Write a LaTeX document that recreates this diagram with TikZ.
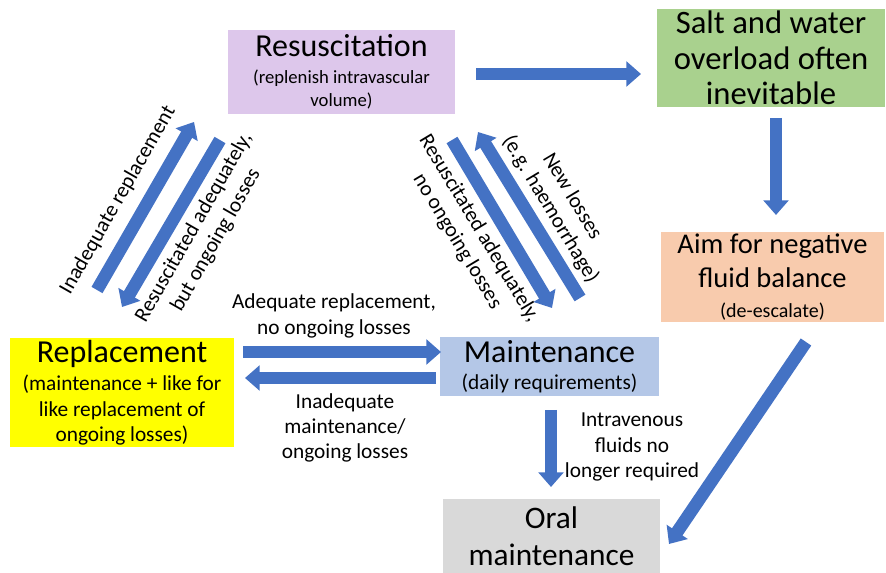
\documentclass[tikz,border=0pt]{standalone}
\usepackage{fontspec}
\setmainfont{Carlito}
\usetikzlibrary{arrows.meta}
\definecolor{arrowblue}{HTML}{4472C4}
\definecolor{purplebox}{RGB}{221,199,235}
\definecolor{greenbox}{HTML}{A9D18E}
\definecolor{orangebox}{HTML}{F8CBAD}
\definecolor{yellowbox}{HTML}{FFFF00}
\definecolor{bluebox}{HTML}{B4C7E7}
\definecolor{graybox}{HTML}{D9D9D9}
\newcommand{\titlefont}{\fontsize{24}{28}\selectfont}
\newcommand{\subfont}{\fontsize{14}{17.4}\selectfont}
\newcommand{\midfont}{\fontsize{16}{19}\selectfont}
\begin{document}
\begin{tikzpicture}[x=0.75pt,y=-0.75pt,
  box/.style={inner sep=0pt, align=center, text=black},
  barrow/.style={draw=arrowblue, line width=9.5pt, -{Triangle[width=18.5pt,length=11pt]}},
  lbl/.style={font=\midfont, align=center, inner sep=0pt}]
\useasboundingbox (0,0) rectangle (886,573);
% boxes
\node[box, fill=purplebox, minimum width=170.25pt, minimum height=63pt, font=\subfont] (res) at (341.5,72)
  {\titlefont Resuscitation\\[3pt](replenish intravascular\\volume)};
\node[box, fill=greenbox, minimum width=171pt, minimum height=73.5pt, font=\fontsize{24.5}{26.5}\selectfont] (salt) at (771,58)
  {Salt and water\\overload often\\inevitable};
\node[box, fill=orangebox, minimum width=167.25pt, minimum height=67.5pt, font=\fontsize{21.4}{25.5}\selectfont] (aim) at (772.5,277)
  {Aim for negative\\fluid balance\\[-3pt]\fontsize{15}{17}\selectfont (de-escalate)};
\node[box, fill=yellowbox, minimum width=168pt, minimum height=81.75pt, font=\midfont] (rep) at (122,393)
  {\titlefont Replacement\\[2pt](maintenance + like for\\like replacement of\\ongoing losses)};
\node[box, fill=bluebox, minimum width=164.25pt, minimum height=44.25pt, font=\midfont] (main) at (549.5,367)
  {\titlefont Maintenance\\[1pt](daily requirements)};
\node[box, fill=graybox, minimum width=162.75pt, minimum height=55.5pt, font=\fontsize{23.5}{27.5}\selectfont] (oral) at (551.5,536)
  {Oral\\maintenance};
% arrow end points
\coordinate (a1s) at (476,74);  \coordinate (a1e) at (641,74);
\coordinate (a2s) at (776,118); \coordinate (a2e) at (776,215);
\coordinate (a3s) at (806,342); \coordinate (a3e) at (669,544);
\coordinate (a4s) at (551,410); \coordinate (a4e) at (551,487);
\coordinate (a5s) at (243,352); \coordinate (a5e) at (441,352);
\coordinate (a6s) at (436,378); \coordinate (a6e) at (245,378);
\coordinate (a7s) at (97,290);  \coordinate (a7e) at (194,122);
\coordinate (a8s) at (220,140); \coordinate (a8e) at (122,307);
\coordinate (a9s) at (452,140); \coordinate (a9e) at (552,308);
\coordinate (a10s) at (580,298); \coordinate (a10e) at (478,132);
\foreach \i in {1,...,10} \draw[barrow] (a\i s) -- (a\i e);
% labels
\node[lbl] (l1) at (334,316) {Adequate replacement,\\no ongoing losses};
\node[lbl] (l2) at (345,428) {Inadequate\\maintenance/\\ongoing losses};
\node[lbl] (l3) at (632,447) {Intravenous\\fluids no\\longer required};
\node[lbl, rotate=60.3] (l4) at (118,200) {Inadequate replacement};
\node[lbl, rotate=60.3] (l5) at (205,234) {Resuscitated adequately,\\but ongoing losses};
\node[lbl, rotate=-59] (l6) at (468,235) {Resuscitated adequately,\\no ongoing losses};
\node[lbl, rotate=-59] (l7) at (561,203) {New losses\\(e.g. haemorrhage)};
\end{tikzpicture}
\end{document}
